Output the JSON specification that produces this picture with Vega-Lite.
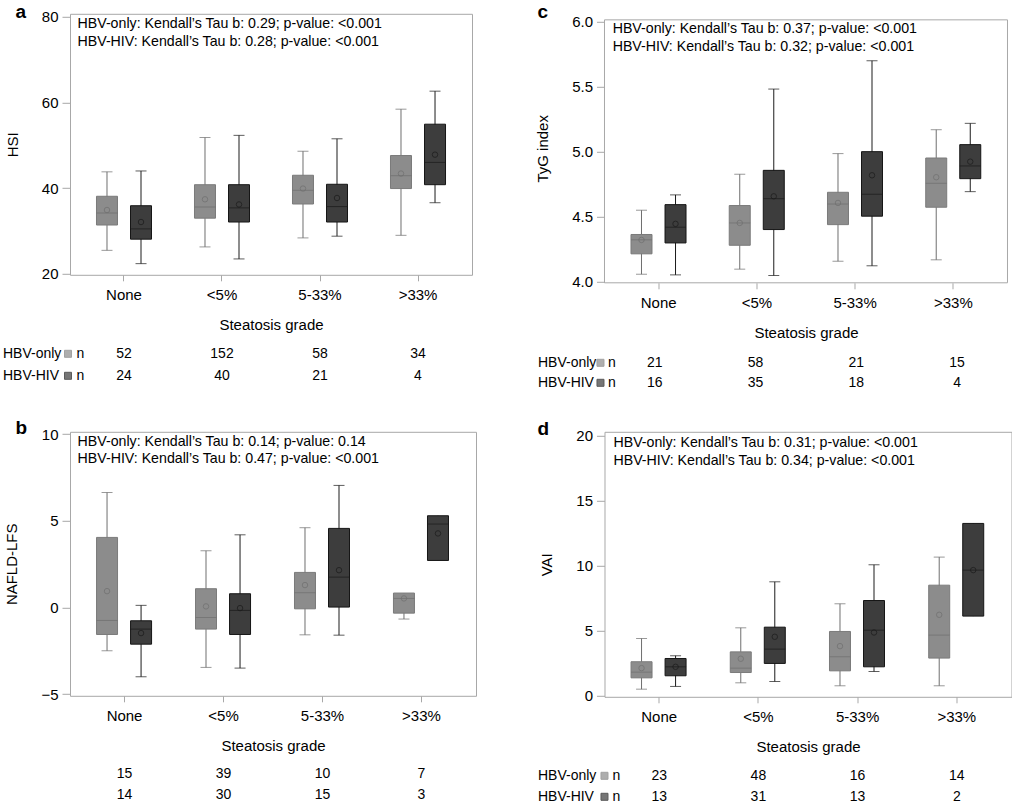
{
  "$schema": "https://vega.github.io/schema/vega-lite/v6.json",
  "padding": {"left": 2, "top": 1.8, "right": 0, "bottom": 0},
  "background": "white",
  "datasets": {
    "boxes": [
      {"panel": "a", "grade": "None", "group": "HBV-only", "lo": 25.5, "q1": 31.4, "med": 34.2, "q3": 38.1, "hi": 43.8, "mean": 34.9},
      {"panel": "a", "grade": "None", "group": "HBV-HIV", "lo": 22.4, "q1": 28.1, "med": 30.5, "q3": 35.9, "hi": 44.0, "mean": 32.1},
      {"panel": "a", "grade": "<5%", "group": "HBV-only", "lo": 26.3, "q1": 33.0, "med": 35.6, "q3": 40.8, "hi": 51.8, "mean": 37.4},
      {"panel": "a", "grade": "<5%", "group": "HBV-HIV", "lo": 23.5, "q1": 32.1, "med": 35.4, "q3": 40.8, "hi": 52.3, "mean": 36.2},
      {"panel": "a", "grade": "5-33%", "group": "HBV-only", "lo": 28.4, "q1": 36.3, "med": 39.5, "q3": 43.0, "hi": 48.6, "mean": 39.9},
      {"panel": "a", "grade": "5-33%", "group": "HBV-HIV", "lo": 28.8, "q1": 32.1, "med": 35.7, "q3": 40.9, "hi": 51.5, "mean": 37.7},
      {"panel": "a", "grade": ">33%", "group": "HBV-only", "lo": 29.0, "q1": 39.9, "med": 42.9, "q3": 47.6, "hi": 58.4, "mean": 43.4},
      {"panel": "a", "grade": ">33%", "group": "HBV-HIV", "lo": 36.6, "q1": 40.8, "med": 46.0, "q3": 54.9, "hi": 62.6, "mean": 47.8},
      {"panel": "c", "grade": "None", "group": "HBV-only", "lo": 4.056, "q1": 4.213, "med": 4.321, "q3": 4.362, "hi": 4.549, "mean": 4.32},
      {"panel": "c", "grade": "None", "group": "HBV-HIV", "lo": 4.051, "q1": 4.297, "med": 4.418, "q3": 4.592, "hi": 4.667, "mean": 4.444},
      {"panel": "c", "grade": "<5%", "group": "HBV-only", "lo": 4.095, "q1": 4.279, "med": 4.451, "q3": 4.585, "hi": 4.826, "mean": 4.451},
      {"panel": "c", "grade": "<5%", "group": "HBV-HIV", "lo": 4.046, "q1": 4.40, "med": 4.638, "q3": 4.856, "hi": 5.482, "mean": 4.656},
      {"panel": "c", "grade": "5-33%", "group": "HBV-only", "lo": 4.156, "q1": 4.438, "med": 4.597, "q3": 4.687, "hi": 4.985, "mean": 4.605},
      {"panel": "c", "grade": "5-33%", "group": "HBV-HIV", "lo": 4.121, "q1": 4.503, "med": 4.672, "q3": 5.0, "hi": 5.7, "mean": 4.818},
      {"panel": "c", "grade": ">33%", "group": "HBV-only", "lo": 4.167, "q1": 4.572, "med": 4.756, "q3": 4.951, "hi": 5.169, "mean": 4.803},
      {"panel": "c", "grade": ">33%", "group": "HBV-HIV", "lo": 4.692, "q1": 4.792, "med": 4.89, "q3": 5.054, "hi": 5.218, "mean": 4.923},
      {"panel": "b", "grade": "None", "group": "HBV-only", "lo": -2.5, "q1": -1.56, "med": -0.75, "q3": 4.04, "hi": 6.63, "mean": 0.94},
      {"panel": "b", "grade": "None", "group": "HBV-HIV", "lo": -4.0, "q1": -2.12, "med": -1.25, "q3": -0.77, "hi": 0.12, "mean": -1.48},
      {"panel": "b", "grade": "<5%", "group": "HBV-only", "lo": -3.46, "q1": -1.25, "med": -0.58, "q3": 1.08, "hi": 3.27, "mean": 0.06},
      {"panel": "b", "grade": "<5%", "group": "HBV-HIV", "lo": -3.5, "q1": -1.56, "med": -0.17, "q3": 0.79, "hi": 4.19, "mean": -0.04},
      {"panel": "b", "grade": "5-33%", "group": "HBV-only", "lo": -1.58, "q1": -0.08, "med": 0.85, "q3": 2.02, "hi": 4.6, "mean": 1.29},
      {"panel": "b", "grade": "5-33%", "group": "HBV-HIV", "lo": -1.6, "q1": 0.02, "med": 1.75, "q3": 4.56, "hi": 7.04, "mean": 2.15},
      {"panel": "b", "grade": ">33%", "group": "HBV-only", "lo": -0.67, "q1": -0.33, "med": 0.52, "q3": 0.83, "hi": 0.83, "mean": 0.52},
      {"panel": "b", "grade": ">33%", "group": "HBV-HIV", "lo": 2.71, "q1": 2.71, "med": 4.81, "q3": 5.29, "hi": 5.29, "mean": 4.27},
      {"panel": "d", "grade": "None", "group": "HBV-only", "lo": 0.51, "q1": 1.38, "med": 1.82, "q3": 2.62, "hi": 4.41, "mean": 2.13},
      {"panel": "d", "grade": "None", "group": "HBV-HIV", "lo": 0.72, "q1": 1.54, "med": 2.23, "q3": 2.87, "hi": 3.08, "mean": 2.23},
      {"panel": "d", "grade": "<5%", "group": "HBV-only", "lo": 1.0, "q1": 1.79, "med": 2.13, "q3": 3.38, "hi": 5.23, "mean": 2.85},
      {"panel": "d", "grade": "<5%", "group": "HBV-HIV", "lo": 1.1, "q1": 2.49, "med": 3.59, "q3": 5.28, "hi": 8.77, "mean": 4.54},
      {"panel": "d", "grade": "5-33%", "group": "HBV-only", "lo": 0.77, "q1": 1.92, "med": 3.0, "q3": 4.95, "hi": 7.08, "mean": 3.82},
      {"panel": "d", "grade": "5-33%", "group": "HBV-HIV", "lo": 1.87, "q1": 2.23, "med": 5.05, "q3": 7.33, "hi": 10.08, "mean": 4.87},
      {"panel": "d", "grade": ">33%", "group": "HBV-only", "lo": 0.77, "q1": 2.9, "med": 4.67, "q3": 8.51, "hi": 10.67, "mean": 6.23},
      {"panel": "d", "grade": ">33%", "group": "HBV-HIV", "lo": 6.13, "q1": 6.13, "med": 9.67, "q3": 13.26, "hi": 13.26, "mean": 9.67}
    ],
    "counts": [
      {"panel": "a", "grade": "None", "group": "HBV-only", "n": 52},
      {"panel": "a", "grade": "<5%", "group": "HBV-only", "n": 152},
      {"panel": "a", "grade": "5-33%", "group": "HBV-only", "n": 58},
      {"panel": "a", "grade": ">33%", "group": "HBV-only", "n": 34},
      {"panel": "a", "grade": "None", "group": "HBV-HIV", "n": 24},
      {"panel": "a", "grade": "<5%", "group": "HBV-HIV", "n": 40},
      {"panel": "a", "grade": "5-33%", "group": "HBV-HIV", "n": 21},
      {"panel": "a", "grade": ">33%", "group": "HBV-HIV", "n": 4},
      {"panel": "c", "grade": "None", "group": "HBV-only", "n": 21},
      {"panel": "c", "grade": "<5%", "group": "HBV-only", "n": 58},
      {"panel": "c", "grade": "5-33%", "group": "HBV-only", "n": 21},
      {"panel": "c", "grade": ">33%", "group": "HBV-only", "n": 15},
      {"panel": "c", "grade": "None", "group": "HBV-HIV", "n": 16},
      {"panel": "c", "grade": "<5%", "group": "HBV-HIV", "n": 35},
      {"panel": "c", "grade": "5-33%", "group": "HBV-HIV", "n": 18},
      {"panel": "c", "grade": ">33%", "group": "HBV-HIV", "n": 4},
      {"panel": "b", "grade": "None", "group": "HBV-only", "n": 15},
      {"panel": "b", "grade": "<5%", "group": "HBV-only", "n": 39},
      {"panel": "b", "grade": "5-33%", "group": "HBV-only", "n": 10},
      {"panel": "b", "grade": ">33%", "group": "HBV-only", "n": 7},
      {"panel": "b", "grade": "None", "group": "HBV-HIV", "n": 14},
      {"panel": "b", "grade": "<5%", "group": "HBV-HIV", "n": 30},
      {"panel": "b", "grade": "5-33%", "group": "HBV-HIV", "n": 15},
      {"panel": "b", "grade": ">33%", "group": "HBV-HIV", "n": 3},
      {"panel": "d", "grade": "None", "group": "HBV-only", "n": 23},
      {"panel": "d", "grade": "<5%", "group": "HBV-only", "n": 48},
      {"panel": "d", "grade": "5-33%", "group": "HBV-only", "n": 16},
      {"panel": "d", "grade": ">33%", "group": "HBV-only", "n": 14},
      {"panel": "d", "grade": "None", "group": "HBV-HIV", "n": 13},
      {"panel": "d", "grade": "<5%", "group": "HBV-HIV", "n": 31},
      {"panel": "d", "grade": "5-33%", "group": "HBV-HIV", "n": 13},
      {"panel": "d", "grade": ">33%", "group": "HBV-HIV", "n": 2}
    ],
    "notes": [
      {"panel": "a", "letter": "a", "note": "HBV-only: Kendall’s Tau b: 0.29; p-value: <0.001\nHBV-HIV: Kendall’s Tau b: 0.28; p-value: <0.001"},
      {"panel": "c", "letter": "c", "note": "HBV-only: Kendall’s Tau b: 0.37; p-value: <0.001\nHBV-HIV: Kendall’s Tau b: 0.32; p-value: <0.001"},
      {"panel": "b", "letter": "b", "note": "HBV-only: Kendall’s Tau b: 0.14; p-value: 0.14\nHBV-HIV: Kendall’s Tau b: 0.47; p-value: <0.001"},
      {"panel": "d", "letter": "d", "note": "HBV-only: Kendall’s Tau b: 0.31; p-value: <0.001\nHBV-HIV: Kendall’s Tau b: 0.34; p-value: <0.001"}
    ]
  },
  "columns": 2,
  "align": "each",
  "bounds": "flush",
  "spacing": {"row": 149, "column": 128.5},
  "concat": [
    {
      "width": 402, "height": 261,
      "resolve": {"scale": {"y": "independent"}, "axis": {"y": "independent"}},
      "layer": [
        {
          "layer": [
            {
              "data": {"name": "boxes"},
              "transform": [{"filter": "datum.panel == 'a'"}],
              "encoding": {
                "x": {"field": "grade", "type": "nominal", "scale": {"domain": ["None", "<5%", "5-33%", ">33%"], "paddingInner": 0, "paddingOuter": 0.051}, "axis": {"title": "Steatosis grade"}},
                "xOffset": {"field": "group", "type": "nominal", "scale": {"domain": ["HBV-only", "HBV-HIV"], "paddingInner": 0, "paddingOuter": 0.44}},
                "color": {"field": "group", "type": "nominal", "scale": {"domain": ["HBV-only", "HBV-HIV"], "range": ["#6e6e6e", "#1a1a1a"]}, "legend": null}
              },
              "layer": [
                {"mark": {"type": "rule", "strokeWidth": 1}, "encoding": {"y": {"field": "lo", "type": "quantitative", "scale": {"domain": [19.8, 80.63], "nice": false, "zero": false}, "axis": {"title": "HSI", "values": [20, 40, 60, 80]}}, "y2": {"field": "hi"}}},
                {"mark": {"type": "bar", "width": 21, "strokeWidth": 1}, "encoding": {"y": {"field": "q1", "type": "quantitative"}, "y2": {"field": "q3"}, "fill": {"field": "group", "type": "nominal", "scale": {"domain": ["HBV-only", "HBV-HIV"], "range": ["#8c8c8c", "#3d3d3d"]}, "legend": null}, "stroke": {"field": "group", "type": "nominal", "scale": {"domain": ["HBV-only", "HBV-HIV"], "range": ["#7a7a7a", "#151515"]}, "legend": null}}},
                {"mark": {"type": "tick", "size": 21, "thickness": 1}, "encoding": {"y": {"field": "med", "type": "quantitative"}}},
                {"transform": [{"filter": "datum.lo < datum.q1"}], "mark": {"type": "tick", "size": 11, "thickness": 1}, "encoding": {"y": {"field": "lo", "type": "quantitative"}}},
                {"transform": [{"filter": "datum.hi > datum.q3"}], "mark": {"type": "tick", "size": 11, "thickness": 1}, "encoding": {"y": {"field": "hi", "type": "quantitative"}}},
                {"mark": {"type": "point", "shape": "circle", "filled": false, "size": 30, "strokeWidth": 1}, "encoding": {"y": {"field": "mean", "type": "quantitative"}}}
              ]
            },
            {
              "data": {"name": "notes"},
              "transform": [{"filter": "datum.panel == 'a'"}],
              "mark": {"type": "text", "align": "left", "baseline": "top", "dx": -46.5, "fontSize": 14.2, "lineBreak": "\n", "lineHeight": 17.3, "color": "#000000"},
              "encoding": {"x": {"datum": "None"}, "y": {"datum": 79.77, "type": "quantitative"}, "text": {"field": "note"}}
            },
            {
              "data": {"name": "notes"},
              "transform": [{"filter": "datum.panel == 'a'"}],
              "mark": {"type": "text", "align": "left", "baseline": "alphabetic", "dx": -108.5, "fontSize": 19, "fontWeight": "bold", "color": "#000000"},
              "encoding": {"x": {"datum": "None"}, "y": {"datum": 79.70, "type": "quantitative"}, "text": {"field": "letter"}}
            }
          ]
        },
        {
          "data": {"name": "counts"},
          "transform": [{"filter": "datum.panel == 'a'"}],
          "encoding": {
            "x": {"field": "grade", "type": "nominal"},
            "y": {"field": "group", "type": "nominal", "scale": {"type": "point", "domain": ["HBV-only", "HBV-HIV"], "range": [340, 362], "padding": 0}, "axis": {"orient": "left", "title": null, "domain": false, "ticks": false, "tickSize": 0, "labelAlign": "left", "labelPadding": 67.5, "labelFontSize": 14, "labelBaseline": "middle"}}
          },
          "layer": [
            {"mark": {"type": "text", "fontSize": 14, "color": "#000000"}, "encoding": {"text": {"field": "n"}}},
            {"transform": [{"filter": "datum.grade == 'None'"}], "mark": {"type": "point", "shape": "square", "filled": true, "size": 49, "xOffset": -56, "strokeWidth": 1}, "encoding": {"fill": {"field": "group", "type": "nominal", "scale": {"domain": ["HBV-only", "HBV-HIV"], "range": ["#8c8c8c", "#3d3d3d"]}, "legend": null}, "stroke": {"field": "group", "type": "nominal", "scale": {"domain": ["HBV-only", "HBV-HIV"], "range": ["#7a7a7a", "#151515"]}, "legend": null}}},
            {"transform": [{"filter": "datum.grade == 'None'"}], "mark": {"type": "text", "text": "n", "dx": -43.5, "fontSize": 14, "color": "#000000"}}
          ]
        }
      ]
    },
    {
      "width": 403, "height": 269,
      "view": {"stroke": null},
      "resolve": {"scale": {"y": "independent", "x": "independent"}, "axis": {"y": "independent", "x": "independent"}},
      "layer": [
        {
          "layer": [
            {
              "data": {"name": "boxes"},
              "transform": [{"filter": "datum.panel == 'c'"}],
              "encoding": {
                "x": {"field": "grade", "type": "nominal", "scale": {"domain": ["None", "<5%", "5-33%", ">33%"], "paddingInner": 0, "paddingOuter": 0.051}, "axis": {"title": "Steatosis grade"}},
                "xOffset": {"field": "group", "type": "nominal", "scale": {"domain": ["HBV-only", "HBV-HIV"], "paddingInner": 0, "paddingOuter": 0.44}},
                "color": {"field": "group", "type": "nominal", "scale": {"domain": ["HBV-only", "HBV-HIV"], "range": ["#6e6e6e", "#1a1a1a"]}, "legend": null}
              },
              "layer": [
                {"mark": {"type": "rule", "strokeWidth": 1}, "encoding": {"y": {"field": "lo", "type": "quantitative", "scale": {"domain": [3.99, 6.0616], "nice": false, "zero": false}, "axis": {"title": "TyG index", "values": [4, 4.5, 5, 5.5, 6], "format": ".1f"}}, "y2": {"field": "hi"}}},
                {"mark": {"type": "bar", "width": 21, "strokeWidth": 1}, "encoding": {"y": {"field": "q1", "type": "quantitative"}, "y2": {"field": "q3"}, "fill": {"field": "group", "type": "nominal", "scale": {"domain": ["HBV-only", "HBV-HIV"], "range": ["#8c8c8c", "#3d3d3d"]}, "legend": null}, "stroke": {"field": "group", "type": "nominal", "scale": {"domain": ["HBV-only", "HBV-HIV"], "range": ["#7a7a7a", "#151515"]}, "legend": null}}},
                {"mark": {"type": "tick", "size": 21, "thickness": 1}, "encoding": {"y": {"field": "med", "type": "quantitative"}}},
                {"transform": [{"filter": "datum.lo < datum.q1"}], "mark": {"type": "tick", "size": 11, "thickness": 1}, "encoding": {"y": {"field": "lo", "type": "quantitative"}}},
                {"transform": [{"filter": "datum.hi > datum.q3"}], "mark": {"type": "tick", "size": 11, "thickness": 1}, "encoding": {"y": {"field": "hi", "type": "quantitative"}}},
                {"mark": {"type": "point", "shape": "circle", "filled": false, "size": 30, "strokeWidth": 1}, "encoding": {"y": {"field": "mean", "type": "quantitative"}}}
              ]
            },
            {
              "data": {"name": "notes"},
              "transform": [{"filter": "datum.panel == 'c'"}],
              "mark": {"type": "text", "align": "left", "baseline": "top", "dx": -46, "fontSize": 14.2, "lineBreak": "\n", "lineHeight": 17.3, "color": "#000000"},
              "encoding": {"x": {"datum": "None"}, "y": {"datum": 5.9946, "type": "quantitative"}, "text": {"field": "note"}}
            },
            {
              "data": {"name": "notes"},
              "transform": [{"filter": "datum.panel == 'c'"}],
              "mark": {"type": "text", "align": "left", "baseline": "alphabetic", "dx": -121.1, "fontSize": 19, "fontWeight": "bold", "color": "#000000"},
              "encoding": {"x": {"datum": "None"}, "y": {"datum": 6.0308, "type": "quantitative"}, "text": {"field": "letter"}}
            }
          ]
        },
        {
          "data": {"name": "notes"},
          "transform": [{"filter": "datum.panel == 'c'"}],
          "layer": [
            {"mark": {"type": "rule", "color": "#a8a8a8", "strokeWidth": 1}, "encoding": {"y": {"datum": 6.015, "type": "quantitative", "scale": {"domain": [3.99, 6.0616], "nice": false, "zero": false}, "axis": null}}},
            {"mark": {"type": "rule", "color": "#a8a8a8", "strokeWidth": 1}, "encoding": {"y": {"datum": 3.99, "type": "quantitative"}}},
            {"mark": {"type": "rule", "color": "#a8a8a8", "strokeWidth": 1}, "encoding": {"x": {"datum": 0, "type": "quantitative", "scale": {"domain": [0, 1], "nice": false, "zero": false}, "axis": null}, "y": {"datum": 6.015, "type": "quantitative"}, "y2": {"datum": 3.99}}},
            {"mark": {"type": "rule", "color": "#a8a8a8", "strokeWidth": 1}, "encoding": {"x": {"datum": 1, "type": "quantitative"}, "y": {"datum": 6.015, "type": "quantitative"}, "y2": {"datum": 3.99}}}
          ]
        },
        {
          "data": {"name": "counts"},
          "transform": [{"filter": "datum.panel == 'c'"}],
          "encoding": {
            "x": {"field": "grade", "type": "nominal", "scale": {"domain": ["None", "<5%", "5-33%", ">33%"], "paddingInner": 0, "paddingOuter": 0.051}, "axis": null},
            "y": {"field": "group", "type": "nominal", "scale": {"type": "point", "domain": ["HBV-only", "HBV-HIV"], "range": [349, 369], "padding": 0}, "axis": {"orient": "left", "title": null, "domain": false, "ticks": false, "tickSize": 0, "labelAlign": "left", "labelPadding": 67, "labelFontSize": 14, "labelBaseline": "middle"}}
          },
          "layer": [
            {"mark": {"type": "text", "fontSize": 14, "color": "#000000"}, "encoding": {"text": {"field": "n"}}},
            {"transform": [{"filter": "datum.grade == 'None'"}], "mark": {"type": "point", "shape": "square", "filled": true, "size": 49, "xOffset": -54.4, "strokeWidth": 1}, "encoding": {"fill": {"field": "group", "type": "nominal", "scale": {"domain": ["HBV-only", "HBV-HIV"], "range": ["#8c8c8c", "#3d3d3d"]}, "legend": null}, "stroke": {"field": "group", "type": "nominal", "scale": {"domain": ["HBV-only", "HBV-HIV"], "range": ["#7a7a7a", "#151515"]}, "legend": null}}},
            {"transform": [{"filter": "datum.grade == 'None'"}], "mark": {"type": "text", "text": "n", "dx": -43.1, "fontSize": 14, "color": "#000000"}}
          ]
        }
      ]
    },
    {
      "width": 406, "height": 264,
      "resolve": {"scale": {"y": "independent"}, "axis": {"y": "independent"}},
      "layer": [
        {
          "layer": [
            {
              "data": {"name": "boxes"},
              "transform": [{"filter": "datum.panel == 'b'"}],
              "encoding": {
                "x": {"field": "grade", "type": "nominal", "scale": {"domain": ["None", "<5%", "5-33%", ">33%"], "paddingInner": 0, "paddingOuter": 0.051}, "axis": {"title": "Steatosis grade"}},
                "xOffset": {"field": "group", "type": "nominal", "scale": {"domain": ["HBV-only", "HBV-HIV"], "paddingInner": 0, "paddingOuter": 0.44}},
                "color": {"field": "group", "type": "nominal", "scale": {"domain": ["HBV-only", "HBV-HIV"], "range": ["#6e6e6e", "#1a1a1a"]}, "legend": null}
              },
              "layer": [
                {"mark": {"type": "rule", "strokeWidth": 1}, "encoding": {"y": {"field": "lo", "type": "quantitative", "scale": {"domain": [-5.098, 10.133], "nice": false, "zero": false}, "axis": {"title": "NAFLD-LFS", "values": [-5, 0, 5, 10]}}, "y2": {"field": "hi"}}},
                {"mark": {"type": "bar", "width": 21, "strokeWidth": 1}, "encoding": {"y": {"field": "q1", "type": "quantitative"}, "y2": {"field": "q3"}, "fill": {"field": "group", "type": "nominal", "scale": {"domain": ["HBV-only", "HBV-HIV"], "range": ["#8c8c8c", "#3d3d3d"]}, "legend": null}, "stroke": {"field": "group", "type": "nominal", "scale": {"domain": ["HBV-only", "HBV-HIV"], "range": ["#7a7a7a", "#151515"]}, "legend": null}}},
                {"mark": {"type": "tick", "size": 21, "thickness": 1}, "encoding": {"y": {"field": "med", "type": "quantitative"}}},
                {"transform": [{"filter": "datum.lo < datum.q1"}], "mark": {"type": "tick", "size": 11, "thickness": 1}, "encoding": {"y": {"field": "lo", "type": "quantitative"}}},
                {"transform": [{"filter": "datum.hi > datum.q3"}], "mark": {"type": "tick", "size": 11, "thickness": 1}, "encoding": {"y": {"field": "hi", "type": "quantitative"}}},
                {"mark": {"type": "point", "shape": "circle", "filled": false, "size": 30, "strokeWidth": 1}, "encoding": {"y": {"field": "mean", "type": "quantitative"}}}
              ]
            },
            {
              "data": {"name": "notes"},
              "transform": [{"filter": "datum.panel == 'b'"}],
              "mark": {"type": "text", "align": "left", "baseline": "top", "dx": -47, "fontSize": 14.2, "lineBreak": "\n", "lineHeight": 17.3, "color": "#000000"},
              "encoding": {"x": {"datum": "None"}, "y": {"datum": 9.96, "type": "quantitative"}, "text": {"field": "note"}}
            },
            {
              "data": {"name": "notes"},
              "transform": [{"filter": "datum.panel == 'b'"}],
              "mark": {"type": "text", "align": "left", "baseline": "alphabetic", "dx": -109, "fontSize": 19, "fontWeight": "bold", "color": "#000000"},
              "encoding": {"x": {"datum": "None"}, "y": {"datum": 10.018, "type": "quantitative"}, "text": {"field": "letter"}}
            }
          ]
        },
        {
          "data": {"name": "counts"},
          "transform": [{"filter": "datum.panel == 'b'"}],
          "encoding": {
            "x": {"field": "grade", "type": "nominal"},
            "y": {"field": "group", "type": "nominal", "scale": {"type": "point", "domain": ["HBV-only", "HBV-HIV"], "range": [342, 363], "padding": 0}, "axis": null}
          },
          "layer": [
            {"mark": {"type": "text", "fontSize": 14, "color": "#000000"}, "encoding": {"text": {"field": "n"}}}
          ]
        }
      ]
    },
    {
      "width": 407, "height": 265,
      "resolve": {"scale": {"y": "independent"}, "axis": {"y": "independent"}},
      "layer": [
        {
          "layer": [
            {
              "data": {"name": "boxes"},
              "transform": [{"filter": "datum.panel == 'd'"}],
              "encoding": {
                "x": {"field": "grade", "type": "nominal", "scale": {"domain": ["None", "<5%", "5-33%", ">33%"], "paddingInner": 0, "paddingOuter": 0.051}, "axis": {"title": "Steatosis grade"}},
                "xOffset": {"field": "group", "type": "nominal", "scale": {"domain": ["HBV-only", "HBV-HIV"], "paddingInner": 0, "paddingOuter": 0.44}},
                "color": {"field": "group", "type": "nominal", "scale": {"domain": ["HBV-only", "HBV-HIV"], "range": ["#6e6e6e", "#1a1a1a"]}, "legend": null}
              },
              "layer": [
                {"mark": {"type": "rule", "strokeWidth": 1}, "encoding": {"y": {"field": "lo", "type": "quantitative", "scale": {"domain": [-0.077, 20.31], "nice": false, "zero": false}, "axis": {"title": "VAI", "values": [0, 5, 10, 15, 20]}}, "y2": {"field": "hi"}}},
                {"mark": {"type": "bar", "width": 21, "strokeWidth": 1}, "encoding": {"y": {"field": "q1", "type": "quantitative"}, "y2": {"field": "q3"}, "fill": {"field": "group", "type": "nominal", "scale": {"domain": ["HBV-only", "HBV-HIV"], "range": ["#8c8c8c", "#3d3d3d"]}, "legend": null}, "stroke": {"field": "group", "type": "nominal", "scale": {"domain": ["HBV-only", "HBV-HIV"], "range": ["#7a7a7a", "#151515"]}, "legend": null}}},
                {"mark": {"type": "tick", "size": 21, "thickness": 1}, "encoding": {"y": {"field": "med", "type": "quantitative"}}},
                {"transform": [{"filter": "datum.lo < datum.q1"}], "mark": {"type": "tick", "size": 11, "thickness": 1}, "encoding": {"y": {"field": "lo", "type": "quantitative"}}},
                {"transform": [{"filter": "datum.hi > datum.q3"}], "mark": {"type": "tick", "size": 11, "thickness": 1}, "encoding": {"y": {"field": "hi", "type": "quantitative"}}},
                {"mark": {"type": "point", "shape": "circle", "filled": false, "size": 30, "strokeWidth": 1}, "encoding": {"y": {"field": "mean", "type": "quantitative"}}}
              ]
            },
            {
              "data": {"name": "notes"},
              "transform": [{"filter": "datum.panel == 'd'"}],
              "mark": {"type": "text", "align": "left", "baseline": "top", "dx": -45.7, "fontSize": 14.2, "lineBreak": "\n", "lineHeight": 17.3, "color": "#000000"},
              "encoding": {"x": {"datum": "None"}, "y": {"datum": 19.95, "type": "quantitative"}, "text": {"field": "note"}}
            },
            {
              "data": {"name": "notes"},
              "transform": [{"filter": "datum.panel == 'd'"}],
              "mark": {"type": "text", "align": "left", "baseline": "alphabetic", "dx": -121.7, "fontSize": 19, "fontWeight": "bold", "color": "#000000"},
              "encoding": {"x": {"datum": "None"}, "y": {"datum": 20.08, "type": "quantitative"}, "text": {"field": "letter"}}
            }
          ]
        },
        {
          "data": {"name": "counts"},
          "transform": [{"filter": "datum.panel == 'd'"}],
          "encoding": {
            "x": {"field": "grade", "type": "nominal"},
            "y": {"field": "group", "type": "nominal", "scale": {"type": "point", "domain": ["HBV-only", "HBV-HIV"], "range": [344, 365], "padding": 0}, "axis": {"orient": "left", "title": null, "domain": false, "ticks": false, "tickSize": 0, "labelAlign": "left", "labelPadding": 67, "labelFontSize": 14, "labelBaseline": "middle"}}
          },
          "layer": [
            {"mark": {"type": "text", "fontSize": 14, "color": "#000000"}, "encoding": {"text": {"field": "n"}}},
            {"transform": [{"filter": "datum.grade == 'None'"}], "mark": {"type": "point", "shape": "square", "filled": true, "size": 49, "xOffset": -54.7, "strokeWidth": 1}, "encoding": {"fill": {"field": "group", "type": "nominal", "scale": {"domain": ["HBV-only", "HBV-HIV"], "range": ["#8c8c8c", "#3d3d3d"]}, "legend": null}, "stroke": {"field": "group", "type": "nominal", "scale": {"domain": ["HBV-only", "HBV-HIV"], "range": ["#7a7a7a", "#151515"]}, "legend": null}}},
            {"transform": [{"filter": "datum.grade == 'None'"}], "mark": {"type": "text", "text": "n", "dx": -42.7, "fontSize": 14, "color": "#000000"}}
          ]
        }
      ]
    }
  ],
  "config": {
    "font": "Liberation Sans",
    "view": {"stroke": "#a8a8a8", "strokeWidth": 1},
    "axis": {"domain": false, "grid": false, "tickColor": "#a8a8a8", "labelColor": "#000000", "titleColor": "#000000", "labelFontSize": 15, "titleFontSize": 15, "titleFontWeight": "normal", "labelFont": "Liberation Sans", "titleFont": "Liberation Sans"},
    "axisX": {"tickSize": 6, "labelPadding": 6.5, "titlePadding": 15, "labelAngle": 0},
    "axisY": {"tickSize": 8, "labelPadding": 4, "titlePadding": 21},
    "text": {"font": "Liberation Sans"}
  }
}
